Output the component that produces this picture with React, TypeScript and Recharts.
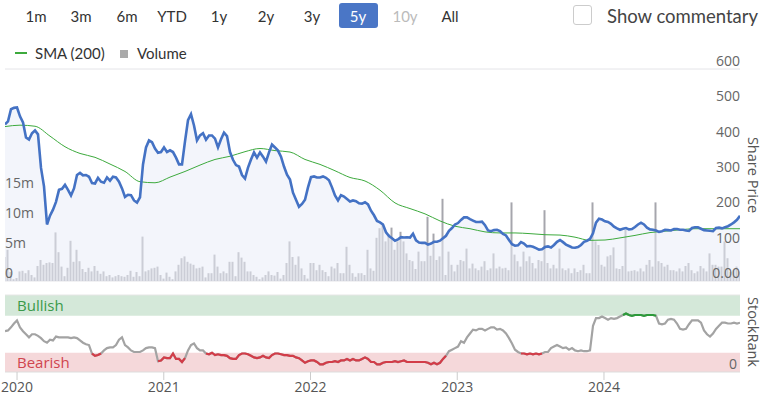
import React from 'react';
import { ComposedChart, Bar, Line, Area, XAxis, YAxis, CartesianGrid, ReferenceArea, ReferenceLine } from 'recharts';

// weekly closes, share price
const PRICE = [
  443, 452, 486, 490, 491, 466, 449, 406, 400, 418,
  426, 415, 320, 268, 160, 185, 202, 224, 258, 261,
  272, 258, 242, 262, 300, 306, 299, 300, 295, 277,
  276, 292, 281, 278, 293, 284, 295, 293, 281, 262,
  238, 244, 243, 228, 222, 237, 330, 378, 398, 393,
  375, 363, 365, 378, 365, 370, 365, 349, 330, 330,
  395, 455, 472, 440, 398, 412, 418, 400, 412, 412,
  403, 378, 401, 420, 410, 365, 343, 328, 324, 300,
  290, 321, 344, 364, 349, 364, 352, 338, 364, 386,
  378, 369, 352, 324, 301, 287, 250, 230, 210, 218,
  230, 265, 294, 296, 293, 293, 296, 292, 285, 265,
  242, 228, 243, 239, 232, 225, 228, 226, 220, 219,
  223, 217, 199, 186, 170, 166, 160, 138, 127, 121,
  114, 118, 124, 123, 124, 123, 134, 115, 109, 108,
  108, 103, 106, 111, 111, 114, 121, 128, 142, 150,
  160, 164, 173, 180, 180, 175, 171, 167, 167, 168,
  158, 143, 141, 144, 145, 141, 133, 129, 116, 104,
  100, 101, 110, 106, 98, 99, 97, 93, 89, 90,
  96, 98, 95, 102, 111, 116, 110, 103, 99, 95,
  94, 96, 102, 111, 114, 119, 135, 165, 176, 174,
  169, 167, 162, 154, 149, 145, 148, 150, 146, 147,
  153, 160, 165, 160, 151, 146, 145, 143, 139, 141,
  145, 144, 143, 147, 147, 145, 145, 143, 142, 150,
  152, 152, 148, 144, 143, 142, 141, 150, 151, 149,
  152, 155, 160, 166, 173, 185,
];

// weekly volume, millions
const VOLUME = [
  4.0, 5.2, 1.5, 0.3, 0.5, 1.6, 1.7, 1.3, 1.8, 1.0,
  0.6, 2.5, 3.5, 2.7, 3.0, 3.1, 3.0, 8.1, 4.8, 2.4,
  0.8, 2.2, 6.7, 3.2, 5.2, 3.3, 2.0, 1.5, 2.2, 1.6,
  2.5, 1.7, 1.2, 1.6, 0.8, 1.0, 0.6, 0.8, 1.0, 0.8,
  0.7, 1.0, 1.7, 0.7, 1.5, 0.8, 7.4, 1.6, 1.8, 2.1,
  2.2, 2.4, 1.0, 0.4, 1.4, 0.7, 0.3, 1.6, 2.7, 3.8,
  4.1, 3.2, 2.9, 2.7, 2.1, 2.2, 2.4, 0.6, 1.3, 1.3,
  4.4, 2.4, 1.3, 1.6, 1.3, 3.2, 3.2, 0.8, 4.8, 3.9,
  3.2, 1.6, 1.6, 1.0, 0.7, 0.3, 0.6, 1.0, 1.6, 1.0,
  0.9, 1.5, 0.4, 1.0, 3.0, 6.6, 4.0, 2.7, 4.1, 2.1,
  1.0, 0.4, 3.0, 3.0, 1.8, 2.7, 1.8, 1.5, 0.8, 2.4,
  2.1, 3.0, 1.3, 1.3, 5.7, 2.7, 1.3, 0.7, 1.3, 1.3,
  1.0, 5.2, 2.1, 1.7, 7.2, 8.8, 9.6, 6.6, 7.8, 8.9,
  5.2, 6.6, 8.2, 6.6, 4.6, 3.5, 3.3, 2.0, 4.9, 3.3,
  3.3, 10.7, 4.2, 7.9, 3.5, 4.1, 13.7, 1.0, 4.9, 2.7,
  1.6, 2.7, 3.5, 3.3, 5.4, 2.1, 2.9, 2.1, 1.8, 2.4,
  3.3, 1.8, 2.1, 4.6, 2.1, 2.4, 2.1, 2.2, 1.8, 13.1,
  4.4, 3.3, 2.4, 4.9, 3.3, 4.1, 3.0, 2.1, 3.5, 3.3,
  11.8, 3.0, 2.1, 2.7, 2.1, 5.4, 2.1, 1.8, 2.1, 1.3,
  2.1, 1.5, 1.8, 2.7, 1.3, 1.3, 13.1, 6.6, 6.0, 2.7,
  2.4, 4.1, 4.3, 5.6, 2.1, 2.0, 2.5, 8.5, 1.6, 1.7,
  1.8, 1.6, 2.1, 1.6, 2.7, 3.5, 2.4, 13.1, 3.3, 3.0,
  2.4, 2.7, 1.8, 1.8, 1.6, 2.1, 1.6, 2.5, 3.0, 1.8,
  1.3, 1.6, 2.5, 2.1, 1.6, 4.6, 2.7, 2.7, 2.4, 2.4,
  6.6, 3.8, 1.5, 1.8, 2.4, 1.6,
];

// 200-day SMA, one reading every 5 weeks
const SMA_200 = [
  437, 441, 438, 410, 380, 361, 350, 331, 310, 281,
  278, 294, 310, 328, 344, 353, 366, 375, 369, 365,
  344, 330, 312, 293, 283, 257, 221, 205, 190, 170,
  155, 148, 139, 136, 136, 134, 131, 130, 124, 115,
  116, 122, 129, 137, 141, 145, 148, 148, 148, 148,
];

const STOCK_RANK = [
  53, 54, 58, 63, 67, 58, 53, 49, 45, 49,
  49, 47, 44, 40, 38, 42, 41, 46, 45, 45,
  45, 45, 44, 45, 44, 41, 38, 36, 35, 24,
  21, 22, 24, 28, 31, 32, 32, 35, 42, 45,
  35, 32, 28, 26, 26, 26, 28, 31, 32, 32,
  31, 14, 15, 19, 18, 18, 24, 17, 17, 13,
  18, 28, 35, 37, 31, 28, 28, 24, 23, 25,
  22, 23, 22, 22, 21, 18, 17, 17, 22, 24,
  24, 23, 21, 19, 18, 19, 21, 19, 18, 22,
  24, 24, 23, 22, 22, 21, 21, 19, 18, 15,
  12, 14, 15, 15, 13, 10, 10, 12, 13, 13,
  14, 13, 15, 15, 17, 15, 17, 15, 15, 17,
  19, 17, 13, 13, 10, 10, 12, 13, 13, 13,
  14, 13, 14, 15, 13, 13, 13, 13, 13, 13,
  13, 12, 10, 12, 10, 12, 17, 21, 27, 29,
  31, 33, 40, 38, 45, 50, 55, 54, 56, 56,
  54, 56, 58, 58, 55, 56, 54, 50, 44, 37,
  29, 26, 24, 24, 23, 24, 23, 24, 23, 24,
  26, 26, 31, 33, 35, 33, 31, 32, 29, 31,
  28, 27, 28, 27, 27, 28, 60, 70, 70, 72,
  70, 68, 70, 69, 70, 72, 74, 76, 74, 73,
  74, 74, 74, 73, 74, 74, 74, 73, 63, 62,
  63, 68, 69, 68, 63, 56, 55, 56, 62, 67,
  67, 67, 64, 54, 49, 46, 50, 56, 60, 64,
  64, 63, 63, 64, 63, 64,
];

const YEARS = [2020, 2021, 2022, 2023, 2024];
const PRICE_TICKS = [0, 100, 200, 300, 400, 500, 600];
const VOLUME_TICKS = [0, 5, 10, 15];
const RANGES = ['1m', '3m', '6m', 'YTD', '1y', '2y', '3y', '5y', '10y', 'All'];

const FIRST_T = 2019.918;
const LAST_T = 2024.927;
const SMA_EVERY = 5;
const BULLISH = 73;
const BEARISH = 25;

const step = (LAST_T - FIRST_T) / (PRICE.length - 1);
const data = PRICE.map((price, i) => ({
  t: FIRST_T + i * step,
  price,
  vol: VOLUME[i],
  sma: i % SMA_EVERY === 0 ? SMA_200[i / SMA_EVERY] : null,
  rank: STOCK_RANK[i],
  rankRed: STOCK_RANK[i] <= BEARISH ? STOCK_RANK[i] : null,
  rankGreen: STOCK_RANK[i] >= BULLISH ? STOCK_RANK[i] : null,
}));

// layout
const W = 762;
const PLOT_L = 5;
const PLOT_R = 740;
const MAIN_H = 290;
const mainMargin = { top: 69, right: W - PLOT_R, bottom: 9, left: PLOT_L };
const VOL_MAX = 212 / 6;
const RANGE_X = [36, 81, 127, 172, 219, 266, 312, 358, 405, 450];

const fmtPrice = (v: number) => (v === 0 ? '0.00' : String(v));
const fmtVol = (v: number) => (v === 0 ? '0' : `${v}m`);

const RightTick = (props: any) => (
  <text x={PLOT_R} y={props.y - 8} dy="0.35em" textAnchor="end" fontSize={14} fill="#666">
    {fmtPrice(props.payload.value)}
  </text>
);

const LeftTick = (props: any) => (
  <text x={PLOT_L} y={props.y - 8} dy="0.35em" textAnchor="start" fontSize={14} fill="#666">
    {fmtVol(props.payload.value)}
  </text>
);

const RankTick = (props: any) => (
  <text x={PLOT_R - 3} y={props.y - 8} dy="0.35em" textAnchor="end" fontSize={14} fill="#666">
    {props.payload.value}
  </text>
);

const Toolbar: React.FC = () => (
  <div style={{ position: 'absolute', left: 0, top: 0, width: W, height: 70, fontFamily: 'Lato, sans-serif', fontSize: 15, color: '#333' }}>
    <div style={{ position: 'absolute', left: 339, top: 3, width: 39, height: 25, background: '#4a76c6', borderRadius: 3 }} />
    {RANGES.map((r, i) => (
      <span
        key={r}
        style={{
          position: 'absolute', left: RANGE_X[i], top: 6, lineHeight: '20px', transform: 'translateX(-50%)',
          color: r === '5y' ? '#fff' : r === '10y' ? '#bbb' : '#333',
        }}
      >
        {r}
      </span>
    ))}
    <div style={{ position: 'absolute', left: 573, top: 5, width: 19, height: 20, border: '1px solid #ccc', borderRadius: 3, boxSizing: 'border-box' }} />
    <span style={{ position: 'absolute', left: 607, top: 4, fontSize: 18.5, lineHeight: '24px', color: '#444' }}>Show commentary</span>
    <div style={{ position: 'absolute', left: 15, top: 52, width: 12, height: 2, background: '#3daa3d' }} />
    <span style={{ position: 'absolute', left: 35, top: 43, lineHeight: '20px' }}>SMA (200)</span>
    <div style={{ position: 'absolute', left: 120, top: 50, width: 8, height: 8, background: '#aaa' }} />
    <span style={{ position: 'absolute', left: 137, top: 43, lineHeight: '20px' }}>Volume</span>
  </div>
);

const App: React.FC = () => {
  return (
    <div style={{ position: 'absolute', left: 0, top: 0, width: W, height: 397, background: '#fff', fontFamily: "'Open Sans', sans-serif", overflow: 'hidden' }}>
      <Toolbar />

      {/* volume bars + grid, behind the price area */}
      <div style={{ position: 'absolute', left: 0, top: 0 }}>
        <ComposedChart width={W} height={MAIN_H} data={data} margin={mainMargin}>
          <CartesianGrid yAxisId="price" vertical={false} stroke="#e4e4e8" />
          <XAxis dataKey="t" type="number" domain={[FIRST_T, LAST_T]} allowDataOverflow hide />
          <YAxis yAxisId="price" orientation="right" mirror domain={[0, 600]} ticks={PRICE_TICKS} tick={false} axisLine={false} tickLine={false} />
          <YAxis yAxisId="vol" domain={[0, VOL_MAX]} allowDataOverflow hide />
          <Bar yAxisId="vol" dataKey="vol" fill="#a6a6ad" barSize={2} isAnimationActive={false} />
        </ComposedChart>
      </div>

      {/* price area, lines and axis labels */}
      <div style={{ position: 'absolute', left: 0, top: 0 }}>
        <ComposedChart width={W} height={MAIN_H} data={data} margin={mainMargin}>
          <XAxis dataKey="t" type="number" domain={[FIRST_T, LAST_T]} allowDataOverflow hide />
          <YAxis yAxisId="price" orientation="right" mirror domain={[0, 600]} ticks={PRICE_TICKS} axisLine={false} tickLine={false} tick={(p: any) => <RightTick {...p} />} />
          <YAxis yAxisId="vol" orientation="left" mirror domain={[0, VOL_MAX]} allowDataOverflow ticks={VOLUME_TICKS} axisLine={false} tickLine={false} tick={(p: any) => <LeftTick {...p} />} />
          <Bar yAxisId="vol" dataKey="vol" fill="transparent" barSize={2} isAnimationActive={false} />
          <Area yAxisId="price" dataKey="price" type="linear" stroke="none" fill="#e9edf8" fillOpacity={0.55} isAnimationActive={false} />
          <Line yAxisId="price" dataKey="sma" type="monotone" stroke="#3daa3d" strokeWidth={1} dot={false} connectNulls isAnimationActive={false} />
          <Line yAxisId="price" dataKey="price" type="linear" stroke="#4472c4" strokeWidth={2.6} dot={false} isAnimationActive={false} />
        </ComposedChart>
      </div>

      {/* StockRank panel */}
      <div style={{ position: 'absolute', left: 0, top: 285 }}>
        <ComposedChart width={W} height={112} data={data} margin={{ top: 10, right: W - PLOT_R, bottom: 0, left: PLOT_L }}>
          <XAxis
            dataKey="t" type="number" domain={[FIRST_T, LAST_T]} allowDataOverflow ticks={YEARS}
            tickFormatter={(v: number) => String(Math.round(v))} height={25} tickSize={8}
            tick={{ fontSize: 14, fill: '#555' }} tickLine={{ stroke: '#ccc' }} axisLine={{ stroke: '#ddd' }}
          />
          <YAxis yAxisId="rank" orientation="right" mirror domain={[0, 100]} ticks={[0]} axisLine={false} tickLine={false} tick={(p: any) => <RankTick {...p} />} />
          <ReferenceArea yAxisId="rank" y1={BULLISH} y2={100} fill="#d4e8d9" fillOpacity={1} stroke="none"
            label={{ value: 'Bullish', position: 'insideLeft', offset: 12, fill: '#3b9a4a', fontSize: 15 }} />
          <ReferenceArea yAxisId="rank" y1={0} y2={BEARISH} fill="#f5d8da" fillOpacity={1} stroke="none"
            label={{ value: 'Bearish', position: 'insideLeft', offset: 12, fill: '#d0454f', fontSize: 15 }} />
          <ReferenceLine yAxisId="rank" y={100} stroke="#e6e6e6" />
          <Line yAxisId="rank" dataKey="rank" type="linear" stroke="#a3a3a3" strokeWidth={2.2} dot={false} isAnimationActive={false} />
          <Line yAxisId="rank" dataKey="rankRed" type="linear" stroke="#d33c48" strokeWidth={2.2} dot={false} isAnimationActive={false} />
          <Line yAxisId="rank" dataKey="rankGreen" type="linear" stroke="#2c9a3a" strokeWidth={2.2} dot={false} isAnimationActive={false} />
        </ComposedChart>
      </div>

      {/* rotated axis titles */}
      <svg width={W} height={397} style={{ position: 'absolute', left: 0, top: 0, pointerEvents: 'none' }}>
        <text x={753} y={175} transform="rotate(90 753 175)" textAnchor="middle" dominantBaseline="central" fontSize={14.5} fill="#555">Share Price</text>
        <text x={753} y={332} transform="rotate(90 753 332)" textAnchor="middle" dominantBaseline="central" fontSize={14.5} fill="#555">StockRank</text>
      </svg>
    </div>
  );
};

export default App;
